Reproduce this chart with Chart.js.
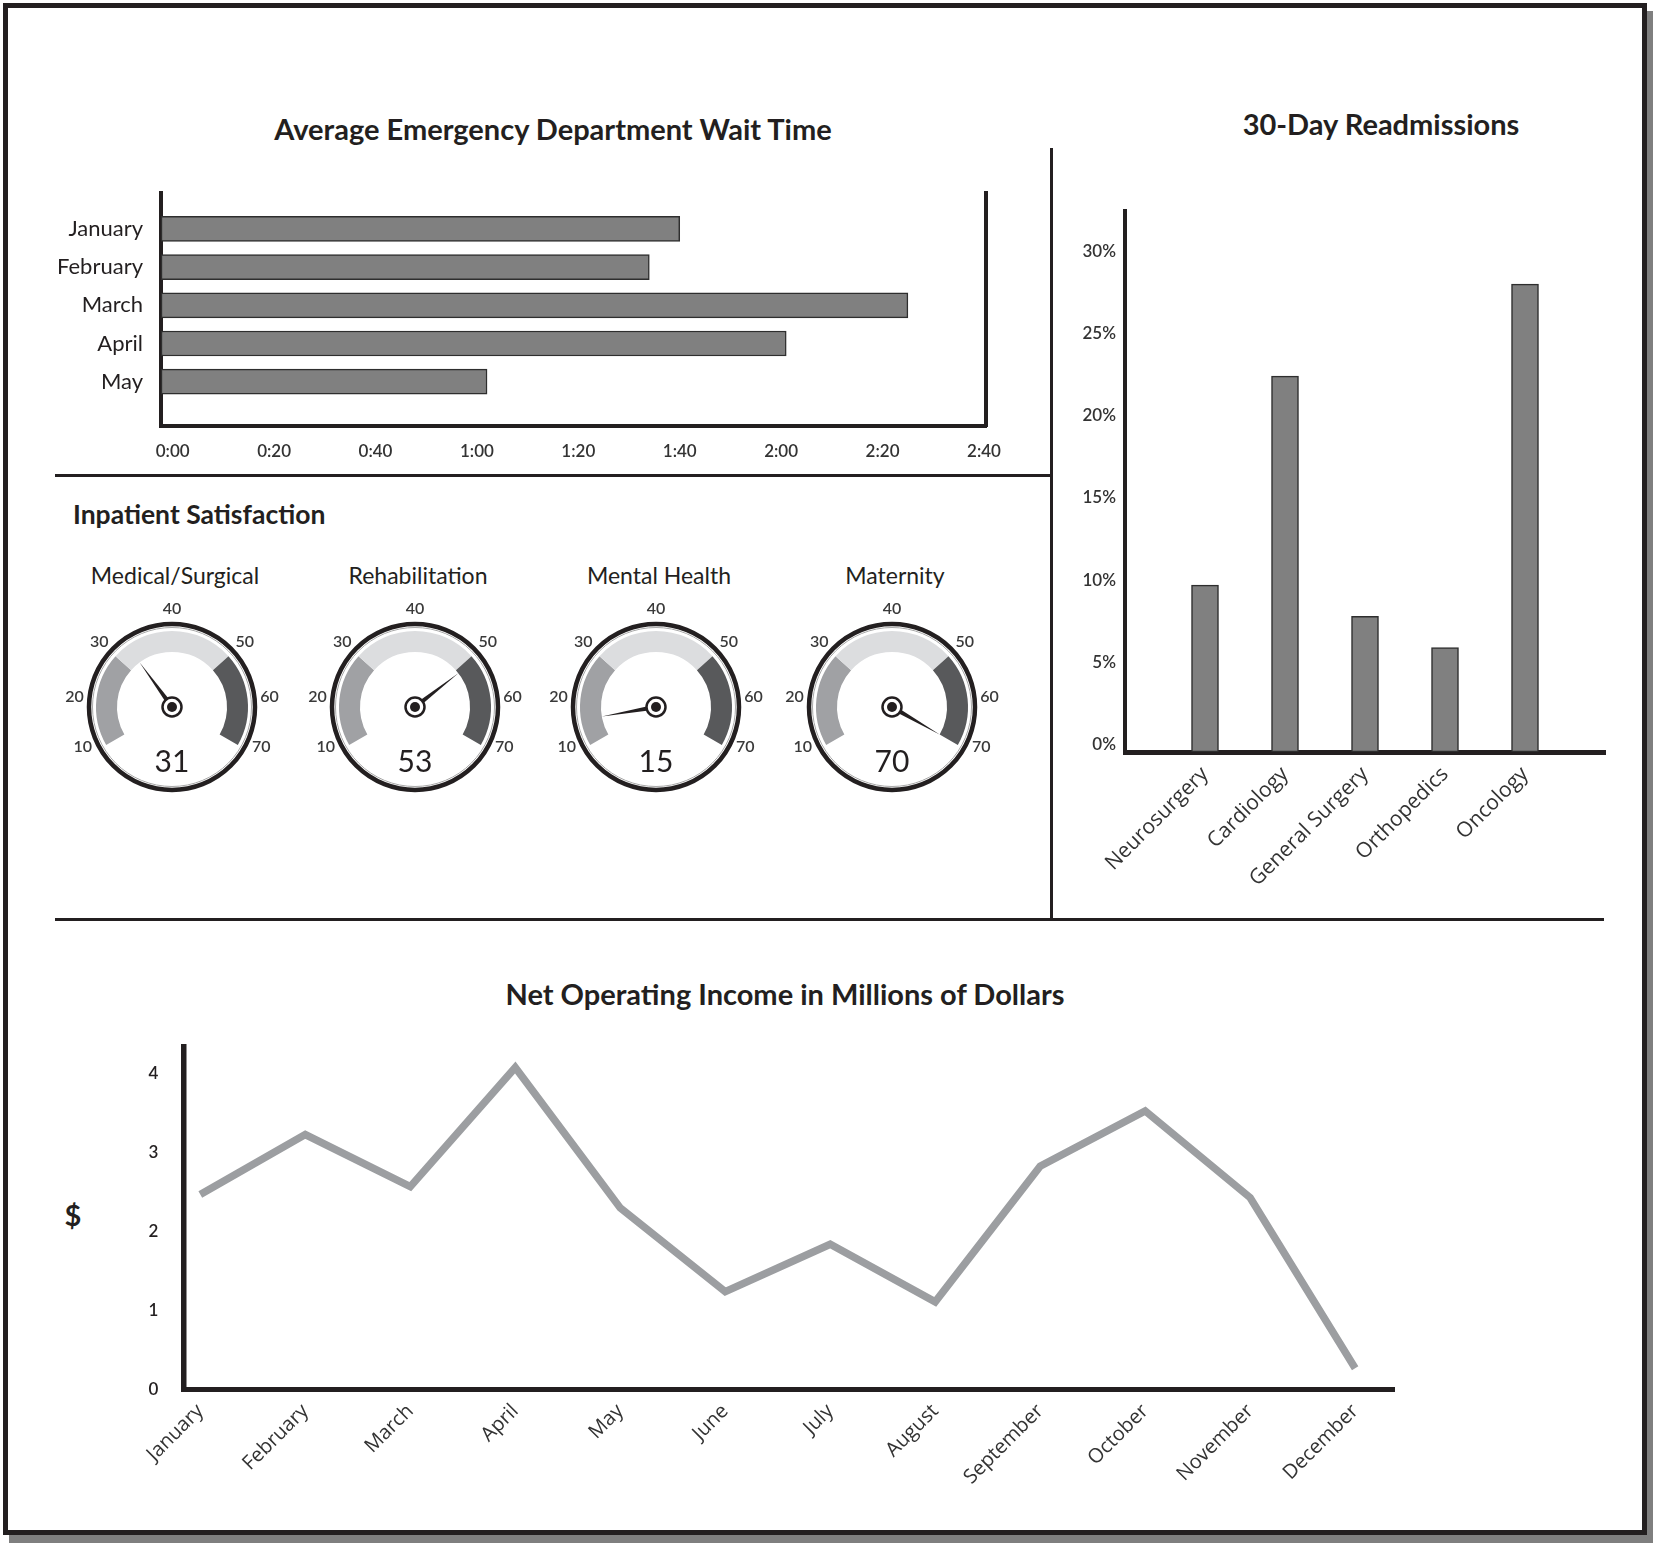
<!DOCTYPE html>
<html>
<head>
<meta charset="utf-8">
<script src="https://cdn.jsdelivr.net/npm/chart.js@4.4.1/dist/chart.umd.min.js"></script>
<style>
  html, body { margin:0; padding:0; background:#fff; }
  body { width:1653px; height:1543px; position:relative; overflow:hidden; font-family:Lato, "Open Sans", sans-serif; color:#231f20; }
  .frame { position:absolute; left:3px; top:3px; width:1644px; height:1532px; box-sizing:border-box; border:5px solid #231f20; box-shadow:6px 8px 0 #7f7f7f; }
  .rule { position:absolute; background:#231f20; }
  .title { position:absolute; font-weight:700; font-size:29px; white-space:nowrap; transform:translate(-50%,-50%); }
  .gname { position:absolute; font-size:23px; white-space:nowrap; transform:translate(-50%,-50%); }
  canvas { position:absolute; }
</style>
</head>
<body>
<div class="frame"></div>
<div class="rule" style="left:55px;top:474px;width:996px;height:3px"></div>
<div class="rule" style="left:1050px;top:148px;width:3px;height:771px"></div>
<div class="rule" style="left:55px;top:918px;width:1549px;height:3px"></div>

<div class="title" style="left:553px;top:128px">Average Emergency Department Wait Time</div>
<div class="title" style="left:1381px;top:123px">30-Day Readmissions</div>
<div class="title" style="left:73px;top:514px;transform:translate(0,-50%);font-size:26.5px">Inpatient Satisfaction</div>
<div class="title" style="left:785px;top:993px">Net Operating Income in Millions of Dollars</div>
<div class="title" style="left:73px;top:1214px">$</div>

<canvas id="waitChart" width="1000" height="300" style="left:20px;top:170px"></canvas>
<canvas id="readmitChart" width="580" height="760" style="left:1060px;top:150px"></canvas>
<canvas id="incomeChart" width="1370" height="480" style="left:60px;top:1030px"></canvas>
<div id="gauges"></div>

<script>
// Average ED wait time, minutes
const waitMonths = ['January', 'February', 'March', 'April', 'May'];
const waitMinutes = [100, 94, 145, 121, 62];
const waitTicks = [0, 20, 40, 60, 80, 100, 120, 140, 160];

// 30-day readmissions, percent
const readmitDepts = ['Neurosurgery', 'Cardiology', 'General Surgery', 'Orthopedics', 'Oncology'];
const readmitPct = [9.7, 22.4, 7.8, 5.9, 28.0];
const readmitTicks = [0, 5, 10, 15, 20, 25, 30];

// inpatient satisfaction gauges
const gaugeNames = ['Medical/Surgical', 'Rehabilitation', 'Mental Health', 'Maternity'];
const gaugeValues = [31, 53, 15, 70];
const gaugeTicks = [10, 20, 30, 40, 50, 60, 70];
const gaugeBands = [18, 24, 18];

// net operating income, millions
const incomeMonths = ['January', 'February', 'March', 'April', 'May', 'June', 'July', 'August', 'September', 'October', 'November', 'December'];
const incomeValues = [2.47, 3.23, 2.57, 4.08, 2.3, 1.24, 1.84, 1.11, 2.83, 3.53, 2.43, 0.27];
const incomeTicks = [0, 1, 2, 3, 4];

const ink = '#231f20';
Chart.defaults.font.family = 'Lato';
Chart.defaults.color = ink;
Chart.defaults.animation = false;
Chart.defaults.responsive = false;
Chart.defaults.plugins.legend.display = false;
Chart.defaults.plugins.tooltip.enabled = false;

const noGrid = { display: false, drawTicks: false };
const setTicks = vals => s => { s.ticks = vals.map(v => ({ value: v })); };
// fix a scale's thickness and drop the label overflow padding
const fixW = w => s => { s.width = w; s.paddingTop = s.paddingBottom = s.paddingLeft = s.paddingRight = 0; };
const fixH = h => s => { s.height = h; s.paddingTop = s.paddingBottom = s.paddingLeft = s.paddingRight = 0; };

function hmm(v) {
  return Math.floor(v / 60) + ':' + String(v % 60).padStart(2, '0');
}

// ---- wait time ----
const waitMin = -2.3;
new Chart(document.getElementById('waitChart'), {
  type: 'bar',
  data: {
    datasets: [{
      data: waitMinutes.map((v, i) => ({ x: v, y: i })),
      backgroundColor: '#808080',
      borderColor: '#2e2e2e',
      borderWidth: 1.5,
      borderSkipped: false,
      barThickness: 25,
      base: waitMin
    }]
  },
  options: {
    indexAxis: 'y',
    layout: { padding: { top: 23, right: 34, left: 0, bottom: 0 } },
    scales: {
      x: {
        type: 'linear', min: waitMin, max: 160.4, bounds: 'data',
        afterBuildTicks: setTicks(waitTicks),
        ticks: { callback: v => hmm(v), font: { size: 17, weight: '600' }, color: '#333', padding: 15, maxRotation: 0, autoSkip: false },
        grid: noGrid,
        border: { color: ink, width: 4 },
        afterFit: fixH(44)
      },
      y: {
        type: 'linear', reverse: true, offset: false, min: -0.94, max: 5.16, bounds: 'data',
        afterBuildTicks: setTicks(waitMonths.map((m, i) => i)),
        ticks: { callback: v => waitMonths[v], font: { size: 22 }, padding: 18, autoSkip: false },
        grid: noGrid,
        border: { color: ink, width: 4 },
        afterFit: fixW(141)
      },
      yr: {
        type: 'linear', position: 'right', offset: false,
        ticks: { display: false },
        grid: noGrid,
        border: { color: ink, width: 4 },
        afterFit: fixW(0)
      }
    }
  }
});

// ---- readmissions ----
const readmitMin = -0.44;
new Chart(document.getElementById('readmitChart'), {
  type: 'bar',
  data: {
    labels: [''].concat(readmitDepts, ['']),
    datasets: [{
      data: [null].concat(readmitPct, [null]),
      backgroundColor: '#808080',
      borderColor: '#2e2e2e',
      borderWidth: 1.5,
      borderSkipped: false,
      barThickness: 27,
      base: readmitMin
    }]
  },
  options: {
    layout: { padding: { top: 61, right: 35, left: 0, bottom: 0 } },
    scales: {
      x: {
        type: 'category', offset: false,
        ticks: { autoSkip: false, minRotation: 45, maxRotation: 45, font: { family: 'Open Sans', size: 21 }, color: '#333', padding: 10 },
        grid: noGrid,
        border: { color: ink, width: 5 },
        afterFit: fixH(158)
      },
      y: {
        type: 'linear', min: readmitMin, max: 32.44, bounds: 'data',
        afterBuildTicks: setTicks(readmitTicks),
        ticks: { callback: v => v + '%', font: { size: 17, weight: '600' }, color: '#333', padding: 9 },
        grid: noGrid,
        border: { color: ink, width: 4 },
        afterFit: fixW(65)
      }
    }
  }
});

// ---- net operating income ----
new Chart(document.getElementById('incomeChart'), {
  type: 'line',
  data: {
    datasets: [{
      data: incomeValues.map((v, i) => ({ x: i, y: v })),
      borderColor: '#9c9ea1',
      borderWidth: 7.5,
      pointRadius: 0,
      tension: 0,
      borderJoinStyle: 'miter',
      fill: false
    }]
  },
  options: {
    layout: { padding: { top: 17, right: 36, left: 0, bottom: 0 } },
    scales: {
      x: {
        type: 'linear', min: -0.161, max: 11.37, bounds: 'data', offset: false,
        afterBuildTicks: setTicks(incomeMonths.map((m, i) => i)),
        ticks: { callback: v => incomeMonths[v], autoSkip: false, minRotation: 45, maxRotation: 45, font: { family: 'Open Sans', size: 20 }, color: '#333', padding: 10 },
        grid: noGrid,
        border: { color: ink, width: 5 },
        afterFit: fixH(120.5)
      },
      y: {
        type: 'linear', min: 0, max: 4.34, bounds: 'data',
        afterBuildTicks: setTicks(incomeTicks),
        ticks: { font: { size: 17, weight: '600' }, padding: 25 },
        grid: noGrid,
        border: { color: ink, width: 5.5 },
        afterFit: fixW(123.4)
      }
    }
  }
});

// ---- gauges ----
const gMin = gaugeTicks[0], gMax = gaugeTicks[gaugeTicks.length - 1];
const gaugeCenters = [172, 415, 656, 892];

const gaugeDial = {
  id: 'gaugeDial',
  afterDatasetsDraw(chart, args, opts) {
    const arcs = chart.getDatasetMeta(0).data;
    const cx = arcs[0].x, cy = arcs[0].y;
    const a0 = arcs[0].startAngle, a1 = arcs[2].endAngle;
    const ang = v => a0 + (v - gMin) / (gMax - gMin) * (a1 - a0);
    const ctx = chart.ctx;
    ctx.save();
    ctx.beginPath(); ctx.arc(cx, cy, 79.5, 0, Math.PI * 2);
    ctx.strokeStyle = '#a8a8a8'; ctx.lineWidth = 1; ctx.stroke();
    ctx.beginPath(); ctx.arc(cx, cy, 83, 0, Math.PI * 2);
    ctx.strokeStyle = ink; ctx.lineWidth = 4.5; ctx.stroke();

    // dial numbers sit on the band ends and band middles, like the printed dial
    const mid = el => (el.startAngle + el.endAngle) / 2;
    const labelAngles = [
      arcs[0].startAngle + 0.1, mid(arcs[0]), arcs[0].endAngle,
      mid(arcs[1]),
      arcs[1].endAngle, mid(arcs[2]), arcs[2].endAngle - 0.1
    ];
    ctx.font = '600 16px Lato';
    ctx.fillStyle = '#3a3a3a';
    ctx.textAlign = 'center';
    ctx.textBaseline = 'middle';
    gaugeTicks.forEach((t, k) => {
      const a = labelAngles[k];
      ctx.fillText(String(t), cx + 98 * Math.cos(a), cy + 98 * Math.sin(a));
    });

    const a = ang(opts.value);
    ctx.beginPath();
    ctx.moveTo(cx + 2.6 * Math.cos(a + Math.PI / 2), cy + 2.6 * Math.sin(a + Math.PI / 2));
    ctx.lineTo(cx + 55 * Math.cos(a), cy + 55 * Math.sin(a));
    ctx.lineTo(cx + 2.6 * Math.cos(a - Math.PI / 2), cy + 2.6 * Math.sin(a - Math.PI / 2));
    ctx.closePath();
    ctx.fillStyle = ink; ctx.fill();

    ctx.beginPath(); ctx.arc(cx, cy, 9.5, 0, Math.PI * 2);
    ctx.fillStyle = '#fff'; ctx.fill();
    ctx.lineWidth = 2.5; ctx.strokeStyle = ink; ctx.stroke();
    ctx.beginPath(); ctx.arc(cx, cy, 5, 0, Math.PI * 2);
    ctx.fillStyle = ink; ctx.fill();

    ctx.font = '30px Lato';
    ctx.fillStyle = ink;
    ctx.fillText(String(opts.value), cx, cy + 55);
    ctx.restore();
  }
};

const holder = document.getElementById('gauges');
gaugeNames.forEach((name, i) => {
  const cx = gaugeCenters[i];
  const label = document.createElement('div');
  label.className = 'gname';
  label.style.left = (cx + 3) + 'px';
  label.style.top = '575px';
  label.textContent = name;
  holder.appendChild(label);

  const cv = document.createElement('canvas');
  cv.width = 240; cv.height = 240;
  cv.style.left = (cx - 120) + 'px';
  cv.style.top = '587px';
  holder.appendChild(cv);

  new Chart(cv, {
    type: 'doughnut',
    data: {
      datasets: [{
        data: gaugeBands.concat([(gMax - gMin) / 2]),
        backgroundColor: ['#a0a1a4', '#dcdddf', '#58595b', 'rgba(0,0,0,0)'],
        borderWidth: 0
      }]
    },
    options: {
      rotation: -120,
      circumference: 360,
      radius: 76,
      cutout: '72.4%',
      plugins: { gaugeDial: { value: gaugeValues[i] } }
    },
    plugins: [gaugeDial]
  });
});
</script>
</body>
</html>
